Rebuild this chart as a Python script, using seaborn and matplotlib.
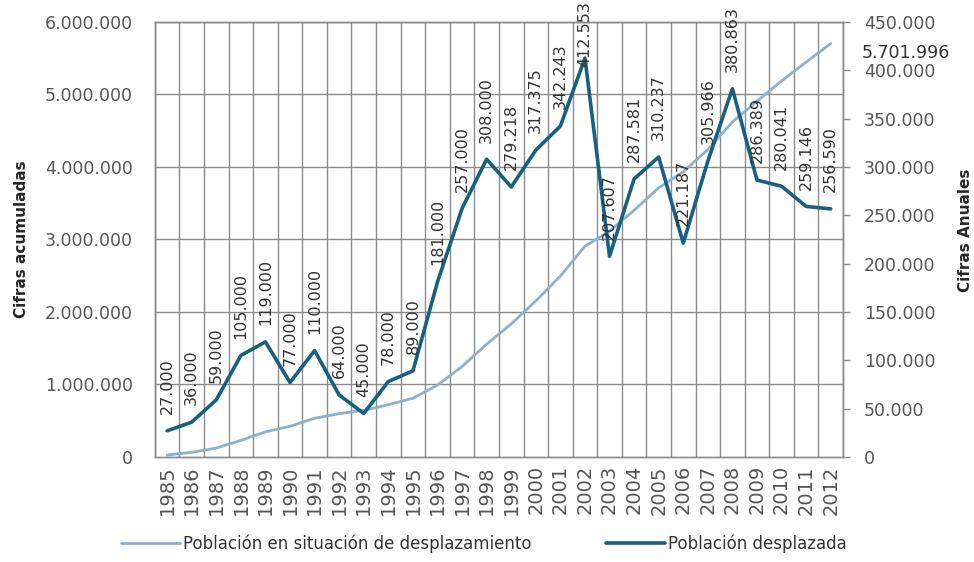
import matplotlib
matplotlib.use("Agg")
import matplotlib.pyplot as plt
import seaborn as sns
import pandas as pd

years = list(range(1985, 2013))
annual = [27000, 36000, 59000, 105000, 119000, 77000, 110000, 64000, 45000, 78000,
          89000, 181000, 257000, 308000, 279218, 317375, 342243, 412553, 207607,
          287581, 310237, 221187, 305966, 380863, 286389, 280041, 259146, 256590]
cumulative = [27000, 63000, 122000, 227000, 346000, 423000, 533000, 597000, 642000,
              720000, 809000, 990000, 1247000, 1555000, 1834218, 2151593, 2493836,
              2906389, 3113996, 3401577, 3711814, 3933001, 4238967, 4619830, 4906219,
              5186260, 5445406, 5701996]
left_ticks = [0, 1000000, 2000000, 3000000, 4000000, 5000000, 6000000]
right_ticks = [0, 50000, 100000, 150000, 200000, 250000, 300000, 350000, 400000, 450000]

def es_fmt(v):
    return f"{int(v):,}".replace(",", ".")

df = pd.DataFrame({"pos": range(len(years)), "year": years,
                   "annual": annual, "cumulative": cumulative})

sns.set_style("white")
plt.rcParams['font.family'] = ['DejaVu Sans']

dark = "#17607f"
light = "#8db0cc"
grid = "#8a8a8a"
tick_col = "#555555"

fig = plt.figure(figsize=(9.74, 5.62), dpi=100)
ax = fig.add_axes([0.159, 0.187, 0.7065, 0.774])
ax2 = ax.twinx()

sns.lineplot(data=df, x="pos", y="cumulative", ax=ax, color=light, linewidth=2,
             label="Población en situación de desplazamiento", legend=False)
sns.lineplot(data=df, x="pos", y="annual", ax=ax2, color=dark, linewidth=2.6,
             label="Población desplazada", legend=False)

ax.set_xlim(-0.5, len(years) - 0.5)
ax.set_ylim(0, 6000000)
ax2.set_ylim(0, 450000)

# category boundaries as vertical grid, left ticks as horizontal grid
for b in range(len(years) + 1):
    ax.axvline(b - 0.5, color=grid, linewidth=1, zorder=0)
for t in left_ticks[1:]:
    ax.axhline(t, color=grid, linewidth=1, zorder=0)

ax.set_xticks(range(len(years)))
ax.set_xticklabels([str(y) for y in years], rotation=90, fontsize=14, color=tick_col)
ax.set_yticks(left_ticks)
ax.set_yticklabels([es_fmt(t) for t in left_ticks], fontsize=12.5, color=tick_col)
ax2.set_yticks(right_ticks)
ax2.set_yticklabels([es_fmt(t) for t in right_ticks], fontsize=12.5, color=tick_col)

ax.tick_params(axis="x", length=0, pad=6)
ax.tick_params(axis="y", length=0, pad=16)
ax2.tick_params(axis="y", length=5, width=1, color=grid, pad=10, right=True)

for a in (ax, ax2):
    for s in a.spines.values():
        s.set_color(grid)
        s.set_linewidth(1)

ax.set_xlabel("")
ax.set_ylabel("Cifras acumuladas", fontsize=11, fontweight="bold")
ax.yaxis.set_label_coords(-0.183, 0.5)
ax2.set_ylabel("Cifras Anuales", fontsize=11, fontweight="bold", rotation=90)
ax2.yaxis.set_label_coords(1.167, 0.52)

# data labels for the annual series
peak = max(annual)
for i, v in enumerate(annual):
    if v == peak:
        # pushed down so it stays inside the chart area
        ax2.annotate(es_fmt(v), xy=(i, 1.0), xycoords=("data", "figure fraction"),
                     xytext=(0, -1), textcoords="offset points",
                     rotation=90, ha="center", va="top", fontsize=11.5,
                     color="#333333", annotation_clip=False)
    else:
        ax2.annotate(es_fmt(v), (i, v), xytext=(0, 12), textcoords="offset points",
                     rotation=90, ha="center", va="bottom", fontsize=11.5,
                     color="#333333", annotation_clip=False)

ax.annotate(es_fmt(cumulative[-1]), (len(years) - 1, cumulative[-1]), xytext=(22, -7),
            textcoords="offset points", ha="left", va="center", fontsize=12.5,
            color="#333333", annotation_clip=False)

h1, l1 = ax.get_legend_handles_labels()
h2, l2 = ax2.get_legend_handles_labels()
fig.legend(h1 + h2, l1 + l2, loc="lower center", bbox_to_anchor=(0.497, -0.01),
           ncol=2, frameon=False, fontsize=12, handlelength=3.5, handletextpad=0.2,
           columnspacing=4.5, labelcolor="#333333")

fig.savefig("out.png", dpi=100)
